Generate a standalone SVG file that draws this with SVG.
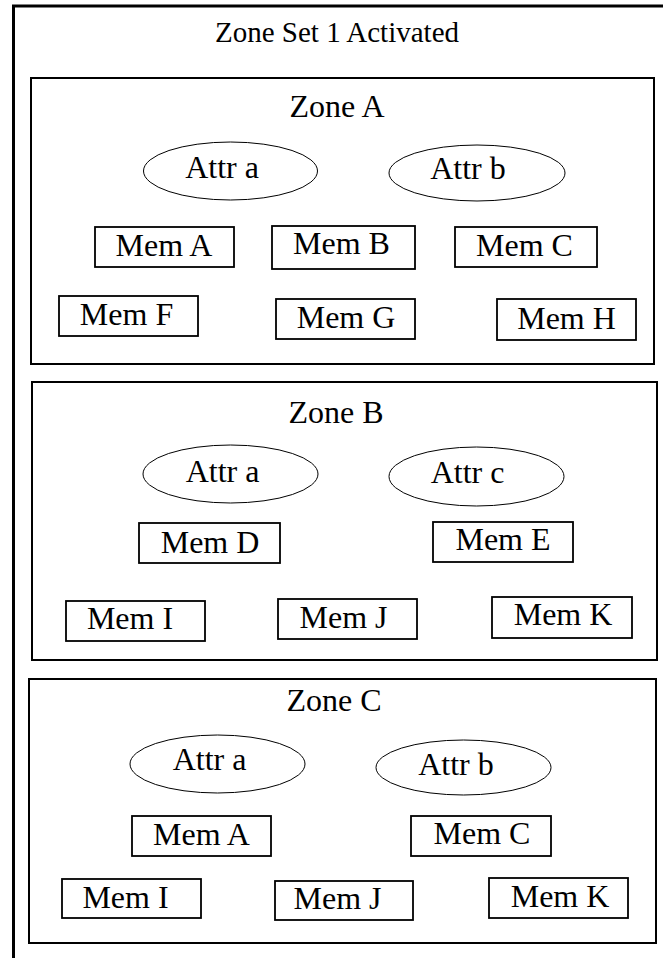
<svg xmlns="http://www.w3.org/2000/svg" width="668" height="959" viewBox="0 0 668 959">
<style>
text{font-family:"Liberation Serif","Times New Roman",serif;font-size:32px;fill:#000;text-anchor:middle}
.frame{fill:none;stroke:#000;stroke-width:3}
.zone{fill:none;stroke:#000;stroke-width:2}
.mem{fill:#fff;stroke:#000;stroke-width:1.8}
.attr{fill:#fff;stroke:#000;stroke-width:1}
</style>
<rect width="668" height="959" fill="#fff"/>
<g id="zoneset">
<path class="frame" d="M13.5 958 V6 H663"/>
<text x="337" y="42" style="font-size:29px">Zone Set 1 Activated</text>
</g>
<g id="zoneA">
<rect class="zone" x="31" y="78" width="623" height="286"/>
<text x="337" y="117">Zone A</text>
</g>
<g id="zoneA-attra"><ellipse class="attr" cx="230.5" cy="171" rx="87" ry="29"/><text x="222" y="178">Attr a</text></g>
<g id="zoneA-attrb"><ellipse class="attr" cx="477" cy="173" rx="88" ry="28"/><text x="468" y="179">Attr b</text></g>
<g id="zoneA-memA"><rect class="mem" x="95" y="227" width="139" height="40"/><text x="164" y="256">Mem A</text></g>
<g id="zoneA-memB"><rect class="mem" x="272" y="226" width="143" height="43"/><text x="341.5" y="254">Mem B</text></g>
<g id="zoneA-memC"><rect class="mem" x="455" y="227" width="142" height="40"/><text x="524.5" y="256">Mem C</text></g>
<g id="zoneA-memF"><rect class="mem" x="59" y="296" width="139" height="40"/><text x="126.5" y="325">Mem F</text></g>
<g id="zoneA-memG"><rect class="mem" x="276" y="299" width="139" height="40"/><text x="346" y="328">Mem G</text></g>
<g id="zoneA-memH"><rect class="mem" x="497" y="299" width="139" height="41"/><text x="566.5" y="329">Mem H</text></g>
<g id="zoneB">
<rect class="zone" x="32" y="382" width="625" height="278"/>
<text x="336" y="423">Zone B</text>
</g>
<g id="zoneB-attra"><ellipse class="attr" cx="230.5" cy="474" rx="87.5" ry="29"/><text x="222.5" y="482">Attr a</text></g>
<g id="zoneB-attrc"><ellipse class="attr" cx="476.5" cy="476.5" rx="87.5" ry="29.5"/><text x="467.5" y="483">Attr c</text></g>
<g id="zoneB-memD"><rect class="mem" x="139" y="523" width="141" height="40"/><text x="210" y="553">Mem D</text></g>
<g id="zoneB-memE"><rect class="mem" x="433" y="522" width="140" height="40"/><text x="503" y="550">Mem E</text></g>
<g id="zoneB-memI"><rect class="mem" x="66" y="601" width="139" height="40"/><text x="130" y="629">Mem I</text></g>
<g id="zoneB-memJ"><rect class="mem" x="278" y="599" width="139" height="40"/><text x="343.5" y="628">Mem J</text></g>
<g id="zoneB-memK"><rect class="mem" x="492" y="597" width="140" height="41"/><text x="563" y="625">Mem K</text></g>
<g id="zoneC">
<rect class="zone" x="29" y="679" width="627" height="264"/>
<text x="334" y="711">Zone C</text>
</g>
<g id="zoneC-attra"><ellipse class="attr" cx="217.5" cy="764" rx="87.5" ry="29"/><text x="209.5" y="770">Attr a</text></g>
<g id="zoneC-attrb"><ellipse class="attr" cx="463.5" cy="767.5" rx="87.5" ry="27.5"/><text x="456" y="775">Attr b</text></g>
<g id="zoneC-memA"><rect class="mem" x="132" y="816" width="139" height="40"/><text x="201.5" y="845">Mem A</text></g>
<g id="zoneC-memC"><rect class="mem" x="411" y="816" width="140" height="40"/><text x="482" y="844">Mem C</text></g>
<g id="zoneC-memI"><rect class="mem" x="62" y="879" width="139" height="39"/><text x="125.5" y="908">Mem I</text></g>
<g id="zoneC-memJ"><rect class="mem" x="275" y="881" width="138" height="39"/><text x="337.5" y="909">Mem J</text></g>
<g id="zoneC-memK"><rect class="mem" x="489" y="878" width="139" height="40"/><text x="560" y="907">Mem K</text></g>
<g id="connectors"/>
</svg>
